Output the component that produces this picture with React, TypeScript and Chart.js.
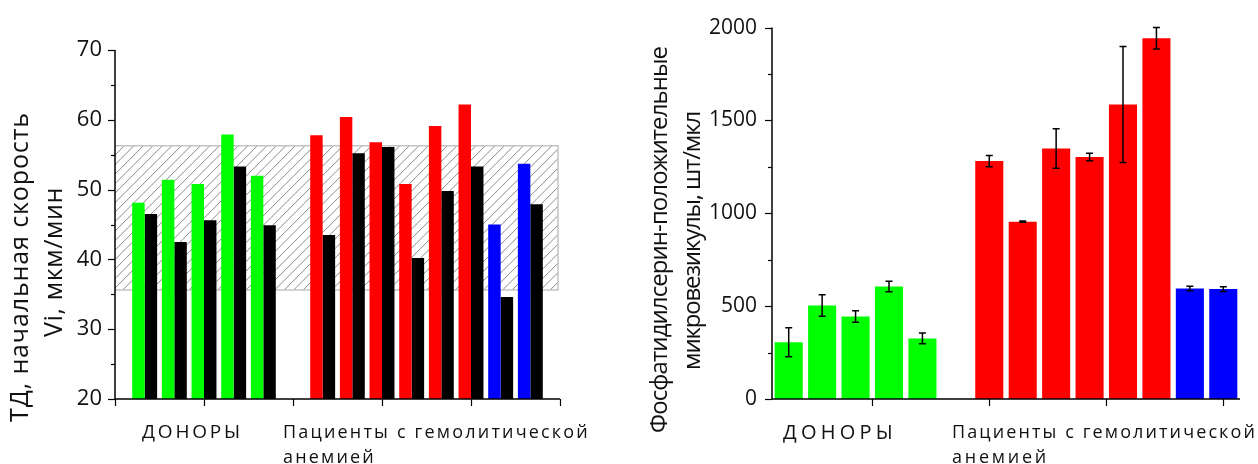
import React, { useEffect, useRef } from 'react';
import { Chart, registerables } from 'chart.js';

Chart.register(...registerables);

const FONT = '"Open Sans", "DejaVu Sans", sans-serif';
const TEXT = '#111111';
const GREEN = '#00ff00';
const RED = '#ff0000';
const BLUE = '#0000ff';
const BLACK = '#000000';

// ---------- Left chart data ----------
const leftSlots = [0, 1, 2, 3, 4, 6, 7, 8, 9, 10, 11, 12, 13];
const leftColors = [GREEN, GREEN, GREEN, GREEN, GREEN, RED, RED, RED, RED, RED, RED, BLUE, BLUE];
const leftColoredValues = [48.1, 51.4, 50.8, 57.9, 52.0, 57.8, 60.4, 56.8, 50.8, 59.1, 62.2, 45.0, 53.7];
const leftBlackValues = [46.5, 42.5, 45.6, 53.3, 44.9, 43.5, 55.2, 56.1, 40.2, 49.8, 53.3, 34.6, 47.9];
const leftNormRange = [35.6, 56.3];
const leftYRange = [20, 70];
const leftYStep = 10;
const leftXRange = [-1, 14];
const leftXTicks = [-1, 2, 5, 8, 11, 14];
const leftYTitle = ['ТД, начальная скорость', 'Vi, мкм/мин'];

// ---------- Right chart data ----------
const rightSlots = [0, 1, 2, 3, 4, 6, 7, 8, 9, 10, 11, 12, 13];
const rightColors = [GREEN, GREEN, GREEN, GREEN, GREEN, RED, RED, RED, RED, RED, RED, BLUE, BLUE];
const rightValues = [306, 504, 444, 606, 326, 1281, 955, 1349, 1303, 1586, 1943, 595, 592];
const rightErrors = [78, 58, 31, 28, 29, 30, 3, 106, 20, 312, 58, 12, 13];
const rightYRange = [0, 2000];
const rightYStep = 500;
const rightXRange = [-0.5, 13.5];
const rightXTicks = [2.5, 6, 9.5, 13];
const rightYTitle = ['Фосфатидилсерин-положительные', 'микровезикулы, шт/мкл'];

const groupLabels = ['ДОНОРЫ', 'Пациенты с гемолитической', 'анемией'];

function drawSpaced(
  ctx: CanvasRenderingContext2D,
  text: string,
  x: number,
  y: number,
  size: number,
  targetWidth: number,
  align: 'left' | 'center',
  rotate: boolean
) {
  ctx.save();
  ctx.font = `${size}px ${FONT}`;
  const anyCtx = ctx as any;
  anyCtx.letterSpacing = '0px';
  const w0 = ctx.measureText(text).width;
  const n = Array.from(text).length;
  const sp = (targetWidth - w0) / n;
  anyCtx.letterSpacing = `${sp}px`;
  ctx.translate(x, y);
  if (rotate) ctx.rotate(-Math.PI / 2);
  ctx.fillStyle = TEXT;
  ctx.textBaseline = 'middle';
  ctx.textAlign = 'left';
  const sx = align === 'center' ? -targetWidth / 2 : 0;
  ctx.fillText(text, sx, 0);
  ctx.restore();
}

type Deco = {
  yMinorStep: number;
  yMajorStep: number;
  xTicks: number[];
  hatch?: number[];
  errors?: number[];
  titles: { text: string; x: number; y: number; size: number; width: number }[];
  labels: { text: string; x: number; y: number; size: number; width: number }[];
};

function makeDecoPlugin(deco: Deco) {
  return {
    id: 'deco',
    beforeDatasetsDraw(chart: any) {
      if (!deco.hatch) return;
      const { ctx, chartArea } = chart;
      const ys = chart.scales.y;
      const top = ys.getPixelForValue(deco.hatch[1]);
      const bottom = ys.getPixelForValue(deco.hatch[0]);
      const left = chartArea.left;
      const right = chartArea.right - 2;
      ctx.save();
      ctx.beginPath();
      ctx.rect(left, top, right - left, bottom - top);
      ctx.clip();
      ctx.strokeStyle = '#8a8a8a';
      ctx.lineWidth = 1;
      const h = bottom - top;
      for (let x = left - h; x < right + 10; x += 9.5) {
        ctx.beginPath();
        ctx.moveTo(x, bottom);
        ctx.lineTo(x + h, top);
        ctx.stroke();
      }
      ctx.restore();
      ctx.save();
      ctx.strokeStyle = '#c4c4c4';
      ctx.lineWidth = 1.5;
      ctx.beginPath();
      ctx.moveTo(left, top);
      ctx.lineTo(right, top);
      ctx.lineTo(right, bottom);
      ctx.lineTo(left, bottom);
      ctx.stroke();
      ctx.restore();
    },
    afterDatasetsDraw(chart: any) {
      const { ctx, chartArea } = chart;
      const ys = chart.scales.y;
      const xs = chart.scales.x;
      ctx.save();
      if (deco.errors) {
        const meta = chart.getDatasetMeta(0);
        const vals = chart.data.datasets[0].data;
        ctx.strokeStyle = '#000';
        ctx.lineWidth = 1.5;
        meta.data.forEach((el: any, i: number) => {
          const v = vals[i].y;
          const e = deco.errors![i];
          const yt = ys.getPixelForValue(v + e);
          const yb = ys.getPixelForValue(v - e);
          ctx.beginPath();
          ctx.moveTo(el.x, yt);
          ctx.lineTo(el.x, yb);
          ctx.moveTo(el.x - 3.5, yt);
          ctx.lineTo(el.x + 3.5, yt);
          ctx.moveTo(el.x - 3.5, yb);
          ctx.lineTo(el.x + 3.5, yb);
          ctx.stroke();
        });
      }
      ctx.strokeStyle = '#000';
      ctx.lineWidth = 1.5;
      ctx.beginPath();
      ctx.moveTo(chartArea.left, chartArea.top);
      ctx.lineTo(chartArea.left, chartArea.bottom);
      ctx.lineTo(chartArea.right, chartArea.bottom);
      ctx.stroke();
      const minV = ys.min;
      const maxV = ys.max;
      ctx.lineWidth = 1.2;
      for (let v = minV; v <= maxV + 1e-9; v += deco.yMinorStep) {
        const major = Math.abs(Math.round(v / deco.yMajorStep) * deco.yMajorStep - v) < 1e-6;
        const y = Math.round(ys.getPixelForValue(v)) + 0.5;
        ctx.beginPath();
        ctx.moveTo(chartArea.left, y);
        ctx.lineTo(chartArea.left - (major ? 7 : 4), y);
        ctx.stroke();
      }
      deco.xTicks.forEach((t) => {
        const x = Math.round(xs.getPixelForValue(t)) + 0.5;
        ctx.beginPath();
        ctx.moveTo(x, chartArea.bottom);
        ctx.lineTo(x, chartArea.bottom + 7);
        ctx.stroke();
      });
      ctx.restore();
      deco.titles.forEach((t) => drawSpaced(ctx, t.text, t.x, t.y, t.size, t.width, 'center', true));
      deco.labels.forEach((t) => drawSpaced(ctx, t.text, t.x, t.y, t.size, t.width, 'left', false));
    },
  };
}

const plainTick = (v: any) => String(v);

function LeftChart() {
  const ref = useRef<HTMLCanvasElement | null>(null);
  useEffect(() => {
    if (!ref.current) return;
    const deco: Deco = {
      yMinorStep: 5,
      yMajorStep: 10,
      xTicks: leftXTicks,
      hatch: leftNormRange,
      titles: [
        { text: leftYTitle[0], x: 21, y: 267, size: 25, width: 310 },
        { text: leftYTitle[1], x: 55, y: 262, size: 25, width: 150 },
      ],
      labels: [
        { text: groupLabels[0], x: 142, y: 433, size: 19, width: 101 },
        { text: groupLabels[1], x: 283, y: 433, size: 18, width: 307 },
        { text: groupLabels[2], x: 283, y: 458, size: 18, width: 93 },
      ],
    };
    const chart = new Chart(ref.current, {
      type: 'bar',
      data: {
        datasets: [
          {
            data: leftSlots.map((x, i) => ({ x, y: leftColoredValues[i] })),
            backgroundColor: leftColors,
            borderWidth: 0,
            categoryPercentage: 0.84,
            barPercentage: 1,
          },
          {
            data: leftSlots.map((x, i) => ({ x, y: leftBlackValues[i] })),
            backgroundColor: BLACK,
            borderWidth: 0,
            categoryPercentage: 0.84,
            barPercentage: 1,
          },
        ],
      } as any,
      options: {
        responsive: false,
        animation: false,
        layout: { padding: { top: 50, right: 60, bottom: 65, left: 0 } },
        plugins: { legend: { display: false }, tooltip: { enabled: false } },
        scales: {
          x: {
            type: 'linear',
            min: leftXRange[0],
            max: leftXRange[1],
            offset: false,
            grid: { offset: false },
            display: false,
          },
          y: {
            type: 'linear',
            min: leftYRange[0],
            max: leftYRange[1],
            afterFit: (s: any) => {
              s.width = 115;
            },
            grid: { display: false, drawTicks: false },
            border: { display: false },
            ticks: {
              stepSize: leftYStep,
              padding: 13,
              color: TEXT,
              font: { family: FONT, size: 22 },
              callback: plainTick,
            },
          },
        },
      } as any,
      plugins: [makeDecoPlugin(deco)],
    });
    return () => chart.destroy();
  }, []);
  return <canvas ref={ref} width={620} height={464} style={{ position: 'absolute', left: 0, top: 0 }} />;
}

function RightChart() {
  const ref = useRef<HTMLCanvasElement | null>(null);
  useEffect(() => {
    if (!ref.current) return;
    const deco: Deco = {
      yMinorStep: 250,
      yMajorStep: 500,
      xTicks: rightXTicks,
      errors: rightErrors,
      titles: [
        { text: rightYTitle[0], x: 40, y: 240, size: 24, width: 386 },
        { text: rightYTitle[1], x: 73, y: 241, size: 24, width: 258 },
      ],
      labels: [
        { text: groupLabels[0], x: 163, y: 433, size: 20, width: 114 },
        { text: groupLabels[1], x: 332, y: 433, size: 18, width: 305 },
        { text: groupLabels[2], x: 332, y: 458, size: 18, width: 97 },
      ],
    };
    const chart = new Chart(ref.current, {
      type: 'bar',
      data: {
        datasets: [
          {
            data: rightSlots.map((x, i) => ({ x, y: rightValues[i] })),
            backgroundColor: rightColors,
            borderWidth: 0,
            categoryPercentage: 0.84,
            barPercentage: 1,
          },
        ],
      } as any,
      options: {
        responsive: false,
        animation: false,
        layout: { padding: { top: 24, right: 18, bottom: 65, left: 0 } },
        plugins: { legend: { display: false }, tooltip: { enabled: false } },
        scales: {
          x: {
            type: 'linear',
            min: rightXRange[0],
            max: rightXRange[1],
            offset: false,
            grid: { offset: false },
            display: false,
          },
          y: {
            type: 'linear',
            min: rightYRange[0],
            max: rightYRange[1],
            afterFit: (s: any) => {
              s.width = 152;
            },
            grid: { display: false, drawTicks: false },
            border: { display: false },
            ticks: {
              stepSize: rightYStep,
              padding: 15,
              color: TEXT,
              font: { family: FONT, size: 21 },
              callback: plainTick,
            },
          },
        },
      } as any,
      plugins: [makeDecoPlugin(deco)],
    });
    return () => chart.destroy();
  }, []);
  return <canvas ref={ref} width={638} height={464} style={{ position: 'absolute', left: 620, top: 0 }} />;
}

export default function App() {
  return (
    <div style={{ position: 'absolute', left: 0, top: 0, width: 1258, height: 464, background: '#fff' }}>
      <LeftChart />
      <RightChart />
    </div>
  );
}
